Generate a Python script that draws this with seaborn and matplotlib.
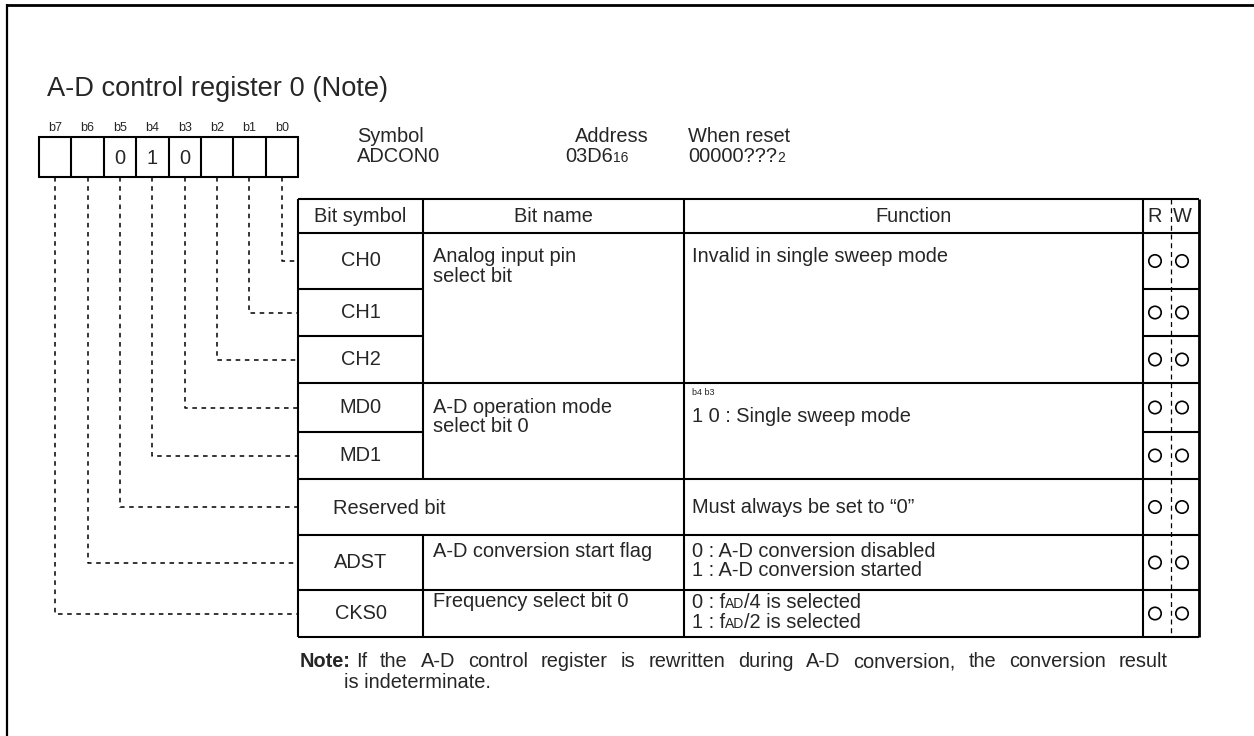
import matplotlib
matplotlib.use("Agg")
import matplotlib.pyplot as plt
import seaborn as sns
import pandas as pd

# ---------------- data ----------------
title = "A-D control register 0 (Note)"
bit_labels = ["b7", "b6", "b5", "b4", "b3", "b2", "b1", "b0"]
bit_values = ["", "", "0", "1", "0", "", "", ""]
symbol_caption = "Symbol"
symbol_name = "ADCON0"
address_caption = "Address"
address_main, address_sub = "03D6", "16"
reset_caption = "When reset"
reset_main, reset_sub = "00000???", "2"
header_cols = ["Bit symbol", "Bit name", "Function", "R", "W"]
bit_symbols = ["CH0", "CH1", "CH2", "MD0", "MD1", "Reserved bit", "ADST", "CKS0"]
row_bits = ["b0", "b1", "b2", "b3", "b4", "b5", "b6", "b7"]
read_ok = [True] * 8
write_ok = [True] * 8
# merged groups: (first row, last row)
group_rows = [(0, 2), (3, 4), (5, 5), (6, 6), (7, 7)]
group_names = ["Analog input pin\nselect bit", "A-D operation mode\nselect bit 0", "",
               "A-D conversion start flag", "Frequency select bit 0"]
group_funcs = [
    [[("Invalid in single sweep mode", "n")]],
    [[("1 0 : Single sweep mode", "n")]],
    [[("Must always be set to \u201c0\u201d", "n")]],
    [[("0 : A-D conversion disabled", "n")], [("1 : A-D conversion started", "n")]],
    [[("0 : f", "n"), ("AD", "s"), ("/4 is selected", "n")],
     [("1 : f", "n"), ("AD", "s"), ("/2 is selected", "n")]],
]
mode_caption = "b4 b3"
note_label = "Note:"
note_lines = ["If the A-D control register is rewritten during A-D conversion, the conversion result",
              "is indeterminate."]

# ---------------- layout ----------------
W, H = 1254, 736
FS = 14.4
FS_TITLE = 19.6
FS_BIT = 9
FS_SUB = 10
LW = 1.5
box_left, box_right, box_top, box_bot = 39, 298, 137, 177
t_left, c1, c2, c3, crw, t_right = 298, 423, 684, 1143, 1171, 1199
t_top, h_bot = 199, 233
row_bounds = [233, 289, 336, 383, 432, 479, 535, 590, 637]
x_r, x_w = 1155, 1182
note_right = 1168

sns.set_theme(style="white")
plt.rcParams["font.family"] = ["Liberation Sans", "DejaVu Sans"]

fig = plt.figure(figsize=(W / 100, H / 100), dpi=100)
ax = fig.add_axes([0, 0, 1, 1])
ax.set_xlim(0, W)
ax.set_ylim(H, 0)
ax.axis("off")

K = dict(color="black", solid_capstyle="butt")


def hline(y, x0, x1, lw=LW, **kw):
    ax.plot([x0, x1], [y, y], lw=lw, **K, **kw)


def vline(x, y0, y1, lw=LW, **kw):
    ax.plot([x, x], [y0, y1], lw=lw, **K, **kw)


def rich(x, y, parts):
    prev = None
    for txt, kind in parts:
        size = FS if kind == "n" else FS_SUB
        if prev is None:
            prev = ax.text(x, y, txt, fontsize=size, ha="left", va="baseline")
        else:
            prev = ax.annotate(txt, xy=(1, y), xycoords=(prev, "data"), fontsize=size,
                               ha="left", va="baseline")
    return prev


# outer frame (top + left)
hline(5, 6, W, lw=2.0)
vline(7, 4, H, lw=1.6)

# title
ax.text(47, 89, title, fontsize=FS_TITLE, ha="left", va="center")

# bit boxes
cw = (box_right - box_left) / len(bit_labels)
bit_x = {}
for i, (lab, val) in enumerate(zip(bit_labels, bit_values)):
    cx = box_left + cw * (i + 0.5)
    bit_x[lab] = cx
    ax.text(cx, 128, lab, fontsize=FS_BIT, ha="center", va="center")
    if val:
        ax.text(cx, 158, val, fontsize=FS, ha="center", va="center")
for i in range(len(bit_labels) + 1):
    vline(box_left + cw * i, box_top, box_bot)
hline(box_top, box_left - 0.7, box_right + 0.7)
hline(box_bot, box_left - 0.7, box_right + 0.7)

# header info
ax.text(357, 136, symbol_caption, fontsize=FS, ha="left", va="center")
ax.text(357, 156, symbol_name, fontsize=FS, ha="left", va="center")
ax.text(612, 136, address_caption, fontsize=FS, ha="center", va="center")
rich(565, 162, [(address_main, "n"), (address_sub, "s")])
ax.text(688, 136, reset_caption, fontsize=FS, ha="left", va="center")
rich(688, 162, [(reset_main, "n"), (reset_sub, "s")])

# table header
hy = (t_top + h_bot) / 2
ax.text((t_left + c1) / 2, hy, header_cols[0], fontsize=FS, ha="center", va="center")
ax.text((c1 + c2) / 2, hy, header_cols[1], fontsize=FS, ha="center", va="center")
ax.text((c2 + c3) / 2, hy, header_cols[2], fontsize=FS, ha="center", va="center")
ax.text(x_r, hy, header_cols[3], fontsize=FS, ha="center", va="center")
ax.text(x_w, hy, header_cols[4], fontsize=FS, ha="center", va="center")

# table frame
hline(t_top, t_left, t_right)
hline(h_bot, t_left, t_right)
vline(t_left, t_top, row_bounds[-1])
vline(c2, t_top, row_bounds[-1])
vline(c3, t_top, row_bounds[-1])
vline(t_right, t_top, row_bounds[-1], lw=2.0)
vline(c1, t_top, row_bounds[5])
vline(c1, row_bounds[6], row_bounds[-1])
ax.plot([crw, crw], [t_top, row_bounds[-1]], lw=0.9, color="black", ls=(0, (4, 3)))

group_ends = {g[1] for g in group_rows}
for r in range(len(bit_symbols)):
    yb = row_bounds[r + 1]
    if r in group_ends:
        hline(yb, t_left, t_right)
    else:
        hline(yb, t_left, c1)
        hline(yb, c3, t_right)

row_centers = [(row_bounds[i] + row_bounds[i + 1]) / 2 for i in range(len(bit_symbols))]

# bit symbol cells
for r, sym in enumerate(bit_symbols):
    if sym.startswith("Reserved"):
        ax.text(333, row_centers[r] + 1, sym, fontsize=FS, ha="left", va="center")
    else:
        ax.text((t_left + c1) / 2, row_centers[r], sym, fontsize=FS, ha="center", va="center")

# bit names and functions
name_off = [29, 30, 0, 22, 17]
func_off = [29, 39, 0, 22, 18]
LS = 19.5
for gi, ((r0, r1), nm, fl) in enumerate(zip(group_rows, group_names, group_funcs)):
    top = row_bounds[r0]
    if nm:
        for k, line in enumerate(nm.split("\n")):
            ax.text(433, top + name_off[gi] + k * LS, line, fontsize=FS, ha="left", va="baseline")
    if gi == 2:
        rich(692, row_centers[r0] + 6, fl[0])
    else:
        for k, line in enumerate(fl):
            rich(692, top + func_off[gi] + k * LS, line)
ax.text(692, row_bounds[3] + 12, mode_caption, fontsize=6.5, ha="left", va="baseline")

# R / W circles
rw = pd.DataFrame({
    "x": [x_r] * sum(read_ok) + [x_w] * sum(write_ok),
    "y": [c for c, ok in zip(row_centers, read_ok) if ok] + [c for c, ok in zip(row_centers, write_ok) if ok],
})
sns.scatterplot(data=rw, x="x", y="y", ax=ax, marker="o", s=80, facecolor="none",
                edgecolor="black", linewidth=1.2, legend=False, zorder=5)

# dotted leader lines
for r, b in enumerate(row_bits):
    bx = bit_x[b]
    yy = row_centers[r]
    ax.plot([bx, bx, t_left], [box_bot, yy, yy], lw=1.1, color="black",
            ls=(0, (3, 3)), solid_joinstyle="miter")

# note (first line justified)
renderer = fig.canvas.get_renderer()
ny = 667
nt = ax.text(300, ny, note_label, fontsize=FS, fontweight="bold", ha="left", va="baseline")
x_start = nt.get_window_extent(renderer).x1 + 5
words = note_lines[0].split(" ")
widths = []
for w_ in words:
    t = ax.text(0, ny, w_, fontsize=FS, ha="left", va="baseline")
    widths.append(t.get_window_extent(renderer).width)
    t.remove()
gap = (note_right - x_start - sum(widths)) / (len(words) - 1)
xx = x_start
for w_, wd in zip(words, widths):
    ax.text(xx, ny, w_, fontsize=FS, ha="left", va="baseline")
    xx += wd + gap
ax.text(344, 688, note_lines[1], fontsize=FS, ha="left", va="baseline")

ax.set_xlim(0, W)
ax.set_ylim(H, 0)
fig.savefig("out.png", dpi=100)
